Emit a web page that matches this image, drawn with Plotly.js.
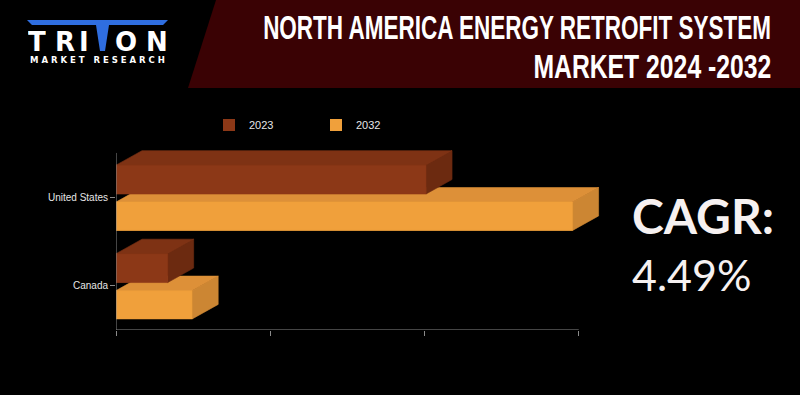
<!DOCTYPE html>
<html>
<head>
<meta charset="utf-8">
<script src="https://cdn.plot.ly/plotly-3.0.1.min.js"></script>
<style>html,body{margin:0;padding:0;background:#000;}#chart{width:800px;height:395px;}</style>
</head>
<body>
<div id="chart"></div>
<script>
// ---- data ----
const categories = ['United States', 'Canada'];
const categoryPositions = [1, 0];
const seriesNames = ['2023', '2032'];
const values2023 = [2.01, 0.335];
const values2032 = [2.96, 0.494];
const xTickValues = [0, 1, 2, 3];
const titleLines = ['NORTH AMERICA ENERGY RETROFIT SYSTEM', 'MARKET 2024 -2032'];

// ---- layout constants ----
const W = 800, H = 395;
const M = {l: 116, r: 195, t: 148, b: 65};
const PW = W - M.l - M.r, PH = H - M.t - M.b;
const px = x => (x - M.l) / PW;
const py = y => (H - M.b - y) / PH;

const DX = 0.1685, DY = 0.164;          // 3D depth in data units
const barGeom = {
  '2023': {offset: 0.036, width: 0.326, front: '#8C3817', top: '#7E3214', side: '#6C2A10'},
  '2032': {offset: -0.375, width: 0.32, front: '#F0A03B', top: '#DD9038', side: '#CC8633'}
};

const traces = [];
[['2023', values2023], ['2032', values2032]].forEach(([name, vals]) => {
  const g = barGeom[name];
  traces.push({
    type: 'bar', orientation: 'h', name: name,
    x: vals, y: categoryPositions, base: 0,
    offset: g.offset, width: g.width,
    marker: {color: g.front, line: {width: 0}},
    hoverinfo: 'skip', showlegend: true
  });
});

function poly(xs, ys, color) {
  traces.push({
    type: 'scatter', mode: 'lines', x: xs.concat([xs[0]]), y: ys.concat([ys[0]]),
    fill: 'toself', fillcolor: color, line: {color: color, width: 0.6},
    hoverinfo: 'skip', showlegend: false
  });
}
[['2032', values2032], ['2023', values2023]].forEach(([name, vals]) => {
  const g = barGeom[name];
  vals.forEach((v, i) => {
    const y0 = categoryPositions[i] + g.offset, y1 = y0 + g.width;
    poly([v, v + DX, v + DX, v], [y0, y0 + DY, y1 + DY, y1], g.side);
    poly([0, v, v + DX, DX], [y1, y1, y1 + DY, y1 + DY], g.top);
    poly([0, v, v, 0], [y0, y0, y1, y1], g.front);
  });
});

const shapes = [
  {type: 'path', xref: 'paper', yref: 'paper', layer: 'below',
   path: `M${px(216)},${py(0)} L${px(800)},${py(0)} L${px(800)},${py(88)} L${px(188)},${py(88)} Z`,
   fillcolor: '#3A0204', line: {width: 0}},
  {type: 'path', xref: 'paper', yref: 'paper',
   path: `M${px(27)},${py(20)} L${px(168)},${py(20)} L${px(163)},${py(25)} L${px(109)},${py(25)} L${px(105)},${py(51)} L${px(100)},${py(51)} L${px(96)},${py(25)} L${px(32)},${py(25)} Z`,
   fillcolor: '#2F6EE0', line: {width: 0}},
  {type: 'line', xref: 'x', yref: 'y', x0: 0, x1: 0, y0: -0.5, y1: 1.5, line: {color: '#8a8a8a', width: 1}},
  {type: 'line', xref: 'x', yref: 'y', x0: 0, x1: 3, y0: -0.5, y1: -0.5, line: {color: '#8a8a8a', width: 1}}
];

const titleWidths = [508, 238];
const titleFont = {family: 'Liberation Sans', size: 33, color: '#ffffff', weight: 700};
const annotations = [
  {text: titleLines[0], x: px(773), y: py(27.5)},
  {text: titleLines[1], x: px(773), y: py(66)}
].map(a => Object.assign(a, {xref: 'paper', yref: 'paper', showarrow: false, xanchor: 'right',
  yanchor: 'middle', align: 'right', font: titleFont}));

const logoFont = {family: 'DejaVu Sans', size: 26, color: '#ffffff', weight: 700};
[['T', 36.5], ['R', 65], ['I', 84], ['O', 126], ['N', 157]].forEach(([t, x]) => {
  annotations.push({text: t, x: px(x), y: py(41.5), xref: 'paper', yref: 'paper', height: 23,
    xanchor: 'center', yanchor: 'middle', valign: 'middle', showarrow: false, font: logoFont});
});
annotations.push({text: 'M\u00A0A\u00A0R\u00A0K\u00A0E\u00A0T\u00A0\u00A0\u00A0R\u00A0E\u00A0S\u00A0E\u00A0A\u00A0R\u00A0C\u00A0H',
  x: px(97), y: py(59), xref: 'paper', yref: 'paper', xanchor: 'center', yanchor: 'middle', height: 9,
  valign: 'middle', showarrow: false, font: {family: 'DejaVu Sans', size: 8.5, color: '#ffffff', weight: 700}});
annotations.push({text: 'CAGR:', x: px(630), y: py(215), xref: 'paper', yref: 'paper',
  xanchor: 'left', yanchor: 'middle', showarrow: false,
  font: {family: 'Lato', size: 48, color: '#F6F1F1', weight: 700}});
annotations.push({text: '4.49%', x: px(630), y: py(274), xref: 'paper', yref: 'paper',
  xanchor: 'left', yanchor: 'middle', showarrow: false,
  font: {family: 'Lato', size: 43, color: '#F6F1F1', weight: 400}});

const layout = {
  width: W, height: H,
  margin: {l: M.l, r: M.r, t: M.t, b: M.b, autoexpand: false},
  paper_bgcolor: '#000000', plot_bgcolor: '#000000',
  barmode: 'overlay',
  showlegend: true,
  legend: {orientation: 'h', x: px(209), y: py(125), xanchor: 'left', yanchor: 'middle',
    bgcolor: 'rgba(0,0,0,0)', font: {family: 'Liberation Sans', size: 11, color: '#e6e6e6'},
    entrywidth: 62, entrywidthmode: 'pixels', traceorder: 'normal'},
  xaxis: {range: [0, 3.17], tickvals: xTickValues, ticks: 'outside', ticklen: 5, tickcolor: '#8a8a8a',
    showticklabels: false, showgrid: false, zeroline: false, showline: false, fixedrange: true},
  yaxis: {range: [-0.5, 1.556], tickvals: categoryPositions, ticktext: categories, ticks: 'outside',
    ticklen: 5, tickcolor: '#8a8a8a', showgrid: false, zeroline: false, showline: false, fixedrange: true,
    tickfont: {family: 'Liberation Sans', size: 10, color: '#e6e6e6'}},
  shapes: shapes,
  annotations: annotations
};

// condensed title look: scale the title text horizontally about its right edge
Plotly.newPlot('chart', traces, layout, {displayModeBar: false, staticPlot: true}).then(gd => {
  gd.querySelectorAll('text.annotation-text').forEach(t => {
    const i = titleLines.indexOf(t.textContent);
    if (i >= 0) {
      const bb = t.getBBox();
      const s = titleWidths[i] / bb.width;
      const xr = bb.x + bb.width;
      t.setAttribute('transform', `matrix(${s},0,0,1,${(1 - s) * xr},0)`);
    }
  });
});
</script>
</body>
</html>
